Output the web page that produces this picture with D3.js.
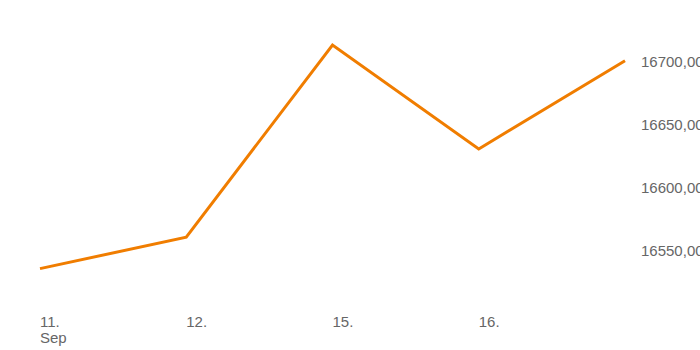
<!DOCTYPE html>
<html><head><meta charset="utf-8">
<script src="https://cdn.jsdelivr.net/npm/d3@7"></script>
<style>body{margin:0;background:#fff}svg{display:block}</style>
</head><body>
<script>
const dates = ["11.", "12.", "15.", "16.", "17."];
const xLabels = ["11.", "12.", "15.", "16.", ""];
const values = [16536, 16561, 16713.5, 16631, 16701];
const yTicks = [16550, 16600, 16650, 16700];
const yTickLabels = ["16550,00", "16600,00", "16650,00", "16700,00"];

const W = 700, H = 350;
const svg = d3.select("body").append("svg").attr("width", W).attr("height", H);

const x = d3.scalePoint().domain(dates).range([40, 625]);
const y = d3.scaleLinear().domain([16550, 16700]).range([251, 62]);

const font = "'Liberation Sans', Arial, sans-serif";

svg.append("g").selectAll("text").data(yTicks).join("text")
  .attr("x", 641).attr("y", d => y(d)).attr("dy", "0.35em")
  .attr("font-family", font).attr("font-size", 15).attr("fill", "#666")
  .text((d, i) => yTickLabels[i]);

const xg = svg.append("g");
dates.forEach((d, i) => {
  if (!xLabels[i]) return;
  const t = xg.append("text").attr("x", x(d)).attr("y", 327)
    .attr("font-family", font).attr("font-size", 15).attr("fill", "#666");
  t.append("tspan").attr("x", x(d)).text(xLabels[i]);
  if (i === 0) t.append("tspan").attr("x", x(d)).attr("dy", 16).text("Sep");
});

const line = d3.line().x((d, i) => x(dates[i])).y(d => y(d));
svg.append("path").datum(values).attr("d", line)
  .attr("fill", "none").attr("stroke", "#f07d00").attr("stroke-width", 3)
  .attr("stroke-linejoin", "miter");
</script>
</body></html>
